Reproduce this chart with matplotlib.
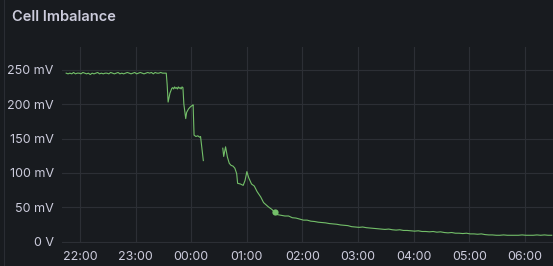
import matplotlib
matplotlib.use("Agg")
import matplotlib.pyplot as plt
import matplotlib.dates as mdates
from matplotlib.ticker import FixedLocator, FuncFormatter
from matplotlib.lines import Line2D
import pandas as pd

DAY0 = "2024-01-01"
DAY1 = "2024-01-02"

# Segment 1: flat ~245 mV, sampled every 2 min from 21:45
seg1_start = "21:45"
seg1_step_min = 2
seg1_values = [245, 244, 245, 244, 246, 244, 245, 245, 244, 246, 245, 244, 245, 243,
               245, 244, 245, 246, 244, 245, 244, 245, 245, 244, 246, 245, 244, 245,
               246, 244, 245, 244, 245, 246, 245, 244, 245, 246, 244, 245, 246, 245,
               244, 245, 246, 245, 246, 244, 246, 245, 245, 246, 245, 245]

# Drop region (continuation of segment 1)
seg1b_times = ["23:33", "23:34", "23:35", "23:37", "23:39", "23:40", "23:41", "23:42",
               "23:43", "23:44", "23:45", "23:46", "23:47", "23:48", "23:49", "23:50",
               "23:51", "23:52", "23:54", "23:55", "23:57", "23:59", "00:01", "00:02",
               "00:03", "00:05", "00:07", "00:09", "00:10", "00:13"]
seg1b_values = [245, 228, 203, 216, 223, 224, 222, 225, 223, 224, 222, 225, 223, 224,
                222, 225, 224, 200, 179, 188, 193, 196, 198, 199, 155, 153, 154, 152,
                153, 118]

# Segment 2 (after gap)
seg2_times = ["00:34", "00:35", "00:37", "00:39", "00:41", "00:43", "00:45", "00:47",
              "00:49", "00:50", "00:53", "00:56", "00:58", "01:00", "01:02", "01:05",
              "01:08", "01:11", "01:15", "01:18", "01:23", "01:27", "01:30"]
seg2_values = [136, 124, 138, 123, 114, 111, 110, 107, 99, 85, 84, 82, 89, 102, 93, 84,
               81, 73, 65, 57, 51, 47, 43]

# Isolated point
dot_time = "01:30"
dot_value = 43

# Segment 3: slow decay, sampled every 4 min from 01:33
seg3_start = "01:33"
seg3_step_min = 4
seg3_values = [39.5, 38.5, 37.5, 37.5, 35, 34.5, 33, 31.5, 31.5, 30, 29.5, 28.5, 28,
               27.5, 26.5, 26, 25.5, 24.5, 24, 23.5, 22, 21.5, 21, 21.5, 20.5, 20,
               19.5, 19, 18.5, 18, 18.5, 17.5, 17, 17.5, 16.5, 16.5, 16, 15.5, 16,
               15, 15, 14.5, 15, 14, 14.5, 13.5, 13, 13.5, 12.5, 12.5, 12, 12.5, 11.5,
               11.5, 11, 11.5, 10.5, 10, 10, 9.5, 9.5, 10, 9.5, 9.5, 9.5, 9.5, 10,
               9.5, 9.5, 9.5, 10, 9.5, 10, 9.5, 9.5]

y_ticks = [0, 50, 100, 150, 200, 250]
x_tick_labels = ["22:00", "23:00", "00:00", "01:00", "02:00", "03:00", "04:00", "05:00", "06:00"]


def ts(hhmm):
    day = DAY0 if int(hhmm[:2]) >= 12 else DAY1
    return pd.Timestamp(f"{day} {hhmm}")


BG = "#181b1f"
TXT = "#ccccdc"
GRID = "#2c2f35"
GREEN = "#73bf69"

plt.rcParams['font.family'] = ['Inter', 'DejaVu Sans']

W, H = 553, 266
fig = plt.figure(figsize=(W / 100, H / 100), dpi=100, facecolor=BG)
ax_l, ax_r, ax_t, ax_b = 62, 553, 47, 242.5
ax = fig.add_axes([ax_l / W, 1 - ax_b / H, (ax_r - ax_l) / W, (ax_b - ax_t) / H])
ax.set_facecolor(BG)

t1 = pd.date_range(ts(seg1_start), periods=len(seg1_values), freq=f"{seg1_step_min}min")
t1b = [ts(s) for s in seg1b_times]
x1 = list(t1) + t1b
y1 = list(seg1_values) + list(seg1b_values)
ax.plot(x1, y1, color=GREEN, lw=0.8, solid_joinstyle="round")

x2 = [ts(s) for s in seg2_times]
ax.plot(x2, seg2_values, color=GREEN, lw=0.8)

ax.plot([ts(dot_time)], [dot_value], 'o', color=GREEN, ms=4.5, mec='none')

t3 = pd.date_range(ts(seg3_start), periods=len(seg3_values), freq=f"{seg3_step_min}min")
ax.plot(t3, seg3_values, color=GREEN, lw=0.8)

# axes limits
ax.set_xlim(pd.Timestamp(f"{DAY0} 21:40:30"), pd.Timestamp(f"{DAY1} 06:30:20"))
ax.set_ylim(-1, 283)

ax.yaxis.set_major_locator(FixedLocator(y_ticks))
ax.yaxis.set_major_formatter(FuncFormatter(lambda v, p: "0 V" if v == 0 else f"{int(v)} mV"))

xt = [ts(s) for s in x_tick_labels]
ax.set_xticks(xt)
ax.set_xticklabels(x_tick_labels)

for s in ax.spines.values():
    s.set_visible(False)
ax.tick_params(axis='both', length=0, colors=TXT, labelsize=9)
ax.tick_params(axis='y', pad=6)
ax.tick_params(axis='x', pad=6)
ax.grid(True, color=GRID, lw=0.8)
ax.set_axisbelow(True)

fig.text(12 / W, 1 - 17 / H, "Cell Imbalance", color=TXT, fontsize=10.5,
         fontweight='semibold', va='center', ha='left')

fig.add_artist(Line2D([3.5 / W, 3.5 / W], [0, 1], color="#2a2d33", lw=0.8))

fig.savefig("out.png", dpi=100, facecolor=BG)
